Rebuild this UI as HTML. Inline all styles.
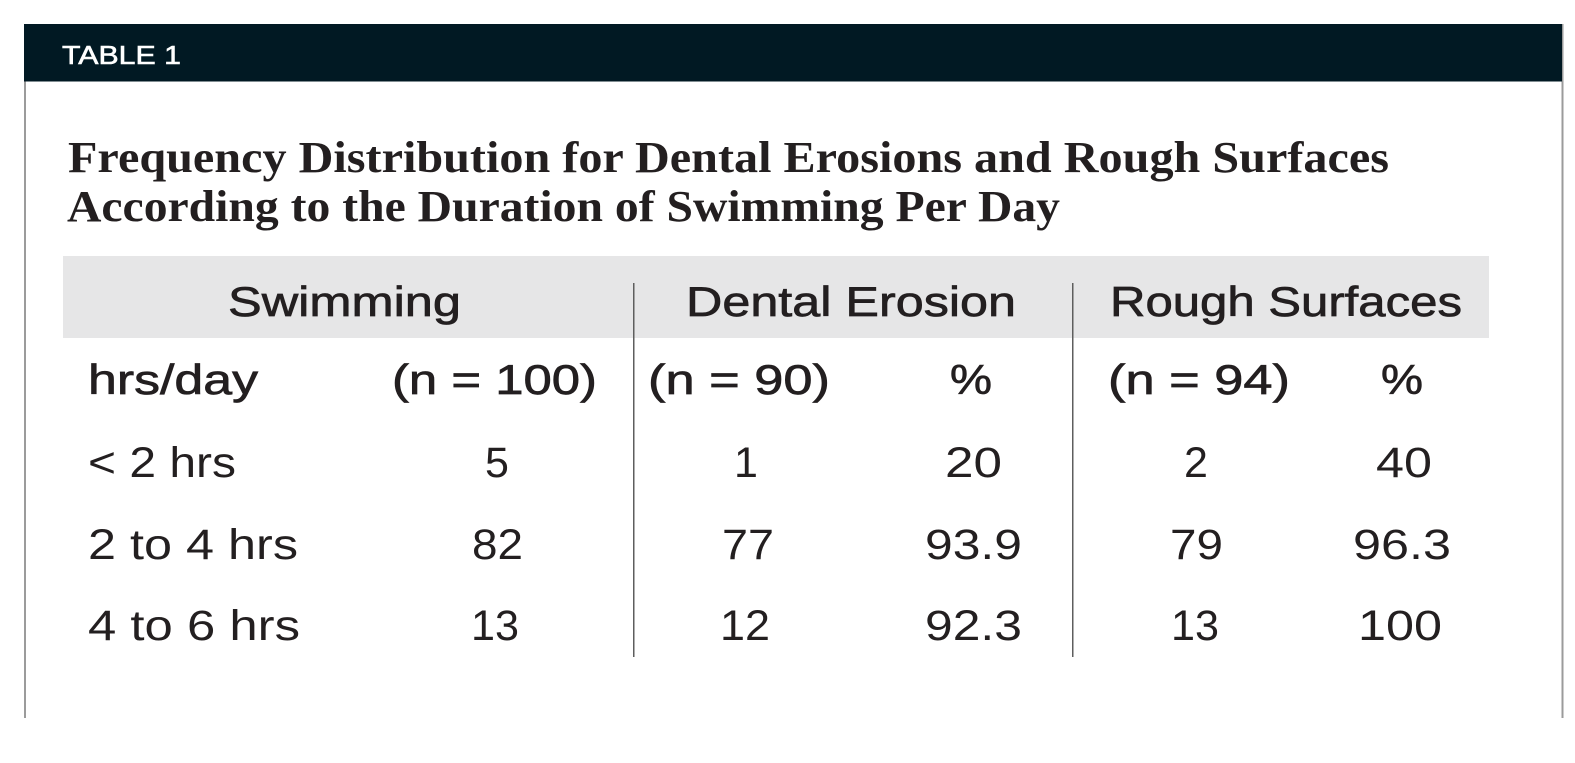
<!DOCTYPE html>
<html>
<head>
<meta charset="utf-8">
<style>
  html,body{margin:0;padding:0;background:#ffffff;}
  body{width:1575px;height:763px;overflow:hidden;}
  svg{display:block;}
  .ttl{font-family:"Liberation Serif",serif;font-weight:bold;font-size:44px;fill:#231f20;}
  .hd{font-family:"Liberation Sans",sans-serif;font-size:42px;fill:#231f20;stroke:#231f20;stroke-width:0.7px;}
  .dt{font-family:"Liberation Sans",sans-serif;font-size:43px;fill:#231f20;}
</style>
</head>
<body>
<svg width="1575" height="763" viewBox="0 0 1575 763" xmlns="http://www.w3.org/2000/svg">
  <rect x="0" y="0" width="1575" height="763" fill="#ffffff"/>
  <!-- outer frame -->
  <rect x="24" y="24" width="2" height="694" fill="#9b9b9b"/>
  <rect x="1561.5" y="24" width="2" height="694" fill="#9b9b9b"/>
  <!-- dark header bar -->
  <rect x="24" y="24" width="1538" height="57.5" fill="#011923"/>
  <text x="62" y="64" font-family="Liberation Sans, sans-serif" font-size="26" fill="#ffffff" stroke="#ffffff" stroke-width="0.6" textLength="119" lengthAdjust="spacingAndGlyphs">TABLE 1</text>

  <!-- title -->
  <text class="ttl" x="68" y="172" textLength="1321" lengthAdjust="spacingAndGlyphs">Frequency Distribution for Dental Erosions and Rough Surfaces</text>
  <text class="ttl" x="67" y="221" textLength="993" lengthAdjust="spacingAndGlyphs">According to the Duration of Swimming Per Day</text>

  <!-- gray header band -->
  <rect x="63" y="256" width="1426" height="82" fill="#e6e6e7"/>

  <!-- dividers -->
  <rect x="633" y="283" width="1.5" height="374" fill="#5e5e5e"/>
  <rect x="1072" y="283" width="1.5" height="374" fill="#5e5e5e"/>

  <!-- group headers -->
  <text class="hd" x="228" y="316" textLength="233" lengthAdjust="spacingAndGlyphs">Swimming</text>
  <text class="hd" x="686" y="316" textLength="330" lengthAdjust="spacingAndGlyphs">Dental Erosion</text>
  <text class="hd" x="1110" y="316" textLength="352" lengthAdjust="spacingAndGlyphs">Rough Surfaces</text>

  <!-- sub headers -->
  <text class="hd" x="88" y="394" textLength="170" lengthAdjust="spacingAndGlyphs">hrs/day</text>
  <text class="hd" x="392" y="394" textLength="205" lengthAdjust="spacingAndGlyphs">(n = 100)</text>
  <text class="hd" x="648" y="394" textLength="182" lengthAdjust="spacingAndGlyphs">(n = 90)</text>
  <text class="hd" x="950" y="394" textLength="42" lengthAdjust="spacingAndGlyphs">%</text>
  <text class="hd" x="1108" y="394" textLength="182" lengthAdjust="spacingAndGlyphs">(n = 94)</text>
  <text class="hd" x="1381" y="394" textLength="42" lengthAdjust="spacingAndGlyphs">%</text>

  <!-- row 1 -->
  <text class="dt" x="88" y="477" textLength="148" lengthAdjust="spacingAndGlyphs">&lt; 2 hrs</text>
  <text class="dt" x="497" y="477" text-anchor="middle">5</text>
  <text class="dt" x="746" y="477" text-anchor="middle">1</text>
  <text class="dt" x="945" y="477" textLength="57" lengthAdjust="spacingAndGlyphs">20</text>
  <text class="dt" x="1196" y="477" text-anchor="middle">2</text>
  <text class="dt" x="1376" y="477" textLength="56" lengthAdjust="spacingAndGlyphs">40</text>

  <!-- row 2 -->
  <text class="dt" x="88" y="559" textLength="210" lengthAdjust="spacingAndGlyphs">2 to 4 hrs</text>
  <text class="dt" x="472" y="559" textLength="51" lengthAdjust="spacingAndGlyphs">82</text>
  <text class="dt" x="722" y="559" textLength="52" lengthAdjust="spacingAndGlyphs">77</text>
  <text class="dt" x="925" y="559" textLength="97" lengthAdjust="spacingAndGlyphs">93.9</text>
  <text class="dt" x="1170" y="559" textLength="53" lengthAdjust="spacingAndGlyphs">79</text>
  <text class="dt" x="1353" y="559" textLength="98" lengthAdjust="spacingAndGlyphs">96.3</text>

  <!-- row 3 -->
  <text class="dt" x="88" y="640" textLength="212" lengthAdjust="spacingAndGlyphs">4 to 6 hrs</text>
  <text class="dt" x="471" y="640" textLength="48" lengthAdjust="spacingAndGlyphs">13</text>
  <text class="dt" x="720" y="640" textLength="50" lengthAdjust="spacingAndGlyphs">12</text>
  <text class="dt" x="925" y="640" textLength="97" lengthAdjust="spacingAndGlyphs">92.3</text>
  <text class="dt" x="1171" y="640" textLength="48" lengthAdjust="spacingAndGlyphs">13</text>
  <text class="dt" x="1358" y="640" textLength="84" lengthAdjust="spacingAndGlyphs">100</text>
</svg>
</body>
</html>
